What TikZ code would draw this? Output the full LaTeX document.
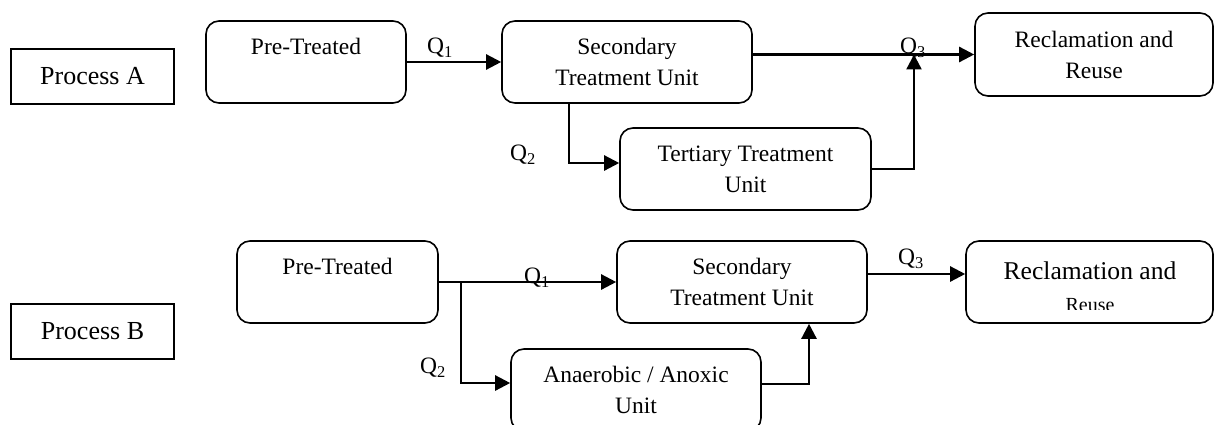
\documentclass[tikz,border=0pt]{standalone}
\usepackage{fontspec}
\setmainfont{Liberation Serif}
\usepackage{tikz}
\usetikzlibrary{arrows.meta,positioning,calc}

\begin{document}
\begin{tikzpicture}[x=1pt, y=-1pt,
    procbox/.style={rectangle, draw, line width=1.8pt, minimum width=163pt, minimum height=55pt, font=\fontsize{26}{31}\selectfont},
    unitbox/.style={rectangle, draw, rounded corners=13pt, line width=1.6pt, minimum width=250pt, minimum height=82pt, align=center, font=\fontsize{23.5}{31}\selectfont},
    qlabel/.style={font=\fontsize{23.5}{31}\selectfont, inner sep=1pt},
    arrow/.style={-{Triangle[length=15pt, width=15pt]}, line width=2.4pt}
]
\useasboundingbox (0,0) rectangle (1214,425);

% Process A
\node[procbox] (procA) at (92.5,76.5) {Process A};
\node[unitbox, minimum width=200pt] (preA) at (306,62) {Pre-Treated\\\mbox{}};
\node[unitbox] (secA) at (627,62) {Secondary\\Treatment Unit};
\node[unitbox, minimum width=251pt] (terA) at (745.5,169) {Tertiary Treatment\\Unit};
\node[unitbox, minimum width=238pt, minimum height=83pt] (recA) at (1094,54.5) {Reclamation and\\Reuse};
\coordinate (jA) at (914,54.5);

\draw[arrow] (preA) -- (secA);
\draw[arrow] ([xshift=-58pt]secA.south) |- ([yshift=6pt]terA.west);
\draw[arrow] (secA.east |- recA.west) -- (recA.west);
\draw[arrow] (terA.east) -| (jA);

\node[qlabel] (q1A) at (440,48) {Q\textsubscript{1}};
\node[qlabel] (q2A) at (523,155) {Q\textsubscript{2}};
\node[qlabel] (q3A) at (913,48) {Q\textsubscript{3}};

% Process B
\node[procbox] (procB) at (92.5,331.5) {Process B};
\node[unitbox, minimum width=201pt] (preB) at (337.5,282) {Pre-Treated\\\mbox{}};
\node[unitbox] (secB) at (742,282) {Secondary\\Treatment Unit};
\node[unitbox] (anaB) at (636,390) {Anaerobic / Anoxic\\Unit};
\node[unitbox, minimum width=247pt] (recB) at (1089.5,282) {};
\begin{scope}
  \clip (recB.north west) rectangle ([yshift=14pt]recB.south east);
  \node[align=center, font=\fontsize{25.6}{32}\selectfont] (recBtext) at (1090,287) {Reclamation and\\{\fontsize{20}{32}\selectfont Reuse}};
\end{scope}
\coordinate (brB) at (461,283);

\draw[arrow] (preB) -- (secB);
\draw[arrow] (brB) |- ([yshift=7pt]anaB.west);
\draw[arrow] ([yshift=6pt]anaB.east) -| ([xshift=67pt]secB.south);
\draw[arrow] ([yshift=8pt]secB.east) -- ([yshift=8pt]recB.west);

\node[qlabel] (q1B) at (537,278) {Q\textsubscript{1}};
\node[qlabel] (q2B) at (433,368) {Q\textsubscript{2}};
\node[qlabel] (q3B) at (911,259) {Q\textsubscript{3}};

\end{tikzpicture}
\end{document}
